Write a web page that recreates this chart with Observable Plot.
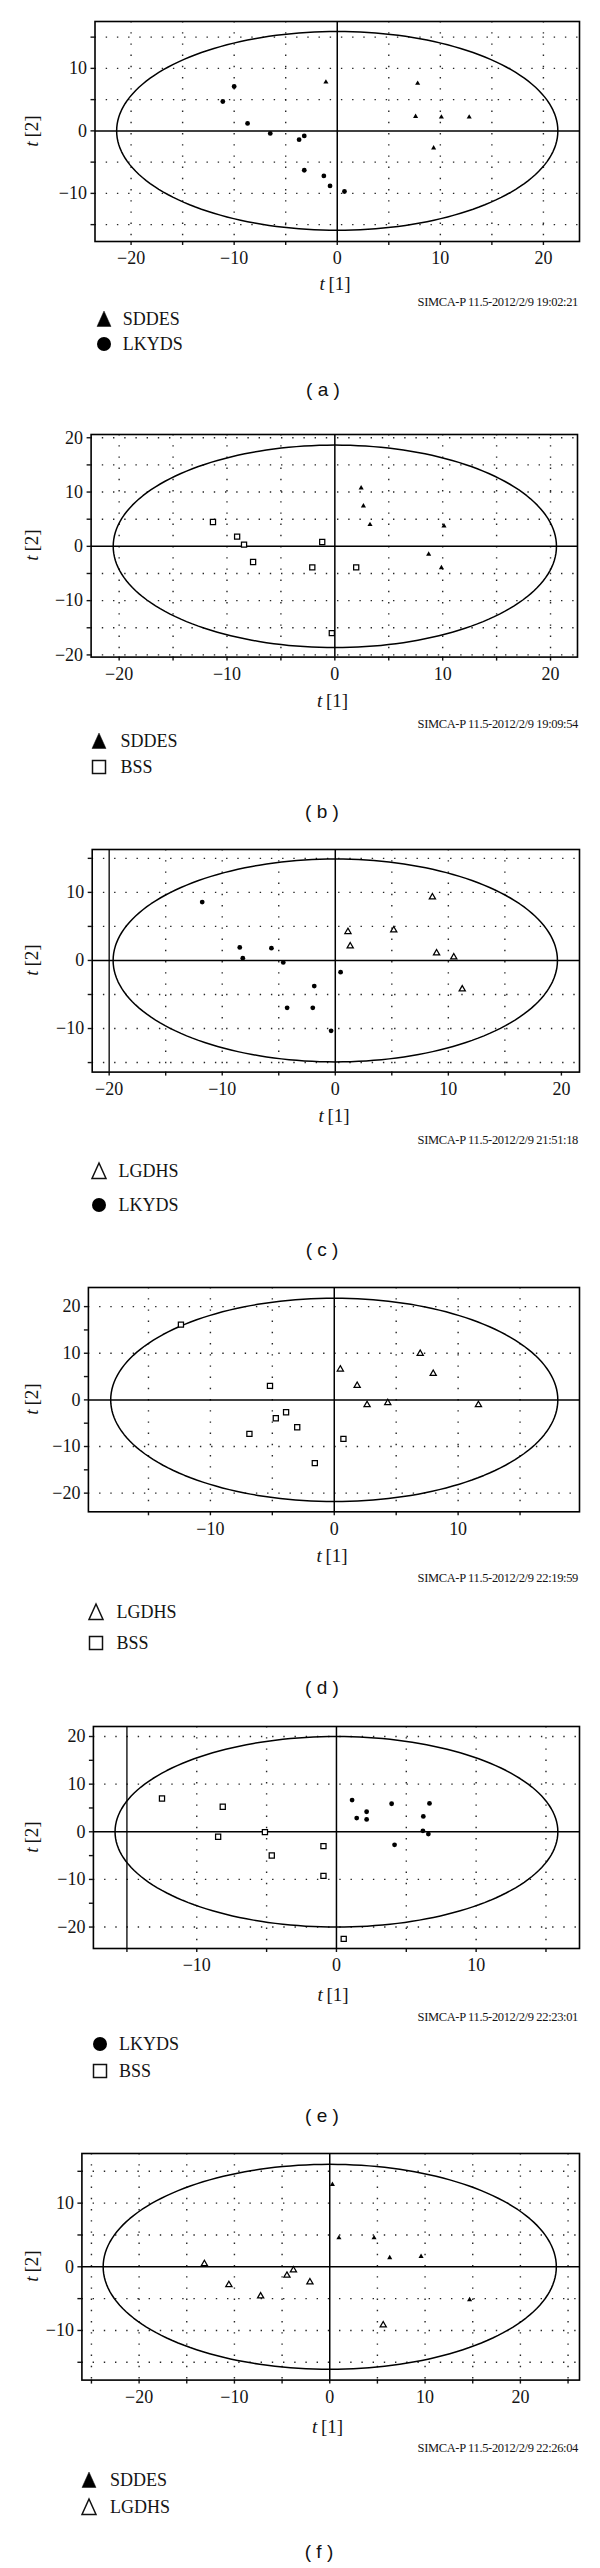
<!DOCTYPE html>
<html><head><meta charset="utf-8">
<script src="https://cdn.jsdelivr.net/npm/d3@7"></script>
<script src="https://cdn.jsdelivr.net/npm/@observablehq/plot@0.6"></script>
<style>
body{margin:0;background:#fff;}
#root{position:relative;width:600px;height:2568px;overflow:hidden;background:#fff;}
.abs{position:absolute;white-space:pre;line-height:1;}
.serif{font-family:"Liberation Serif","DejaVu Serif",serif;color:#141414;}
.sans{font-family:"Liberation Sans","DejaVu Sans",sans-serif;color:#111;}
</style></head><body><div id="root"></div>
<script>
// ---------- data (t[1], t[2]) ----------
const a_SDDES = [[-1.1,7.8],[7.8,7.6],[7.6,2.3],[10.1,2.2],[12.8,2.2],[9.35,-2.75]];
const a_LKYDS = [[-10.0,7.1],[-11.1,4.7],[-8.7,1.2],[-6.5,-0.4],[-3.7,-1.4],[-3.2,-0.8],[-3.2,-6.3],[-1.3,-7.2],[-0.7,-8.8],[0.7,-9.7]];
const b_SDDES = [[2.44,10.75],[2.65,7.43],[3.26,4.0],[10.12,3.75],[8.7,-1.47],[9.88,-3.93]];
const b_BSS = [[-11.3,4.49],[-9.06,1.78],[-8.42,0.31],[-7.58,-2.89],[-1.17,0.8],[-2.09,-3.87],[1.98,-3.87],[-0.28,-15.98]];
const c_LGDHS = [[8.59,9.31],[1.12,4.22],[5.17,4.46],[1.32,2.11],[8.96,1.08],[10.48,0.49],[11.23,-4.22]];
const c_LKYDS = [[-11.77,8.58],[-8.45,1.91],[-5.65,1.81],[-8.18,0.34],[-4.6,-0.29],[0.47,-1.72],[-1.86,-3.77],[-4.26,-6.96],[-1.99,-6.96],[-0.37,-10.34]];
const d_LGDHS = [[6.94,9.93],[0.49,6.57],[7.99,5.64],[1.85,3.07],[2.65,-1.07],[4.32,-0.64],[11.64,-1.07]];
const d_BSS = [[-12.38,16.14],[-5.19,3.0],[-3.89,-2.64],[-4.72,-3.93],[-2.99,-5.86],[-6.85,-7.29],[0.74,-8.36],[-1.57,-13.57]];
const e_LKYDS = [[1.12,6.65],[3.95,5.88],[6.66,5.95],[2.16,4.2],[1.45,2.87],[2.16,2.59],[6.22,3.22],[6.19,0.21],[6.58,-0.49],[4.16,-2.73]];
const e_BSS = [[-12.49,7.0],[-8.14,5.25],[-8.47,-1.05],[-5.12,-0.07],[-0.93,-3.01],[-4.63,-4.97],[-0.93,-9.25],[0.52,-22.49]];
const f_SDDES = [[0.28,12.93],[0.96,4.55],[4.65,4.55],[6.29,1.41],[9.58,1.62],[14.67,-5.18]];
const f_LGDHS = [[-13.15,0.47],[-10.58,-2.83],[-7.25,-4.61],[-4.49,-1.36],[-3.81,-0.52],[-2.08,-2.41],[5.61,-9.16]];

const panelLetters = ["a","b","c","d","e","f"];
const panelGroups = [["SDDES","LKYDS"],["SDDES","BSS"],["LGDHS","LKYDS"],["LGDHS","BSS"],["LKYDS","BSS"],["SDDES","LGDHS"]];
const panelData = [[a_SDDES,a_LKYDS],[b_SDDES,b_BSS],[c_LGDHS,c_LKYDS],[d_LGDHS,d_BSS],[e_LKYDS,e_BSS],[f_SDDES,f_LGDHS]];
const xDomains = [[-23.5,23.5],[-22.6,22.5],[-21.5,21.6],[-19.85,19.8],[-17.4,17.4],[-26,26.2]];
const yDomains = [[-17.7,17.5],[-20.4,20.6],[-16.4,16.3],[-24,24.1],[-24.5,22.1],[-17.8,17.8]];
const xTicks = [[-20,-15,-10,-5,0,5,10,15,20],[-20,-15,-10,-5,0,5,10,15,20],[-20,-15,-10,-5,0,5,10,15,20],[-15,-10,-5,0,5,10,15],[-15,-10,-5,0,5,10,15],[-25,-20,-15,-10,-5,0,5,10,15,20,25]];
const yTicks = [[-15,-10,-5,0,5,10,15],[-20,-15,-10,-5,0,5,10,15,20],[-15,-10,-5,0,5,10,15],[-20,-15,-10,-5,0,5,10,15,20],[-20,-15,-10,-5,0,5,10,15,20],[-15,-10,-5,0,5,10,15]];
const xGrid = [[-20,-15,-10,-5,5,10,15,20],[-20,-15,-10,-5,5,10,15,20],[-15,-10,-5,5,10,15],[-15,-10,-5,5,10,15],[-10,-5,5,10,15],[-25,-20,-15,-10,-5,5,10,15,20,25]];
const yGrid = [[-15,-10,-5,5,10,15],[-20,-15,-10,-5,5,10,15,20],[-15,-10,-5,5,10,15],[-20,-10,10,20],[-20,-10,10,20],[-15,-10,-5,5,10,15]];
const extraRules = [[],[],[-20],[],[-15],[]];
const ellipseA = [21.4,20.55,19.65,18.05,15.85,23.77];
const ellipseB = [15.9,18.65,14.9,21.8,20.0,16.1];
const stamps = ["SIMCA-P 11.5-2012/2/9 19:02:21","SIMCA-P 11.5-2012/2/9 19:09:54","SIMCA-P 11.5-2012/2/9 21:51:18","SIMCA-P 11.5-2012/2/9 22:19:59","SIMCA-P 11.5-2012/2/9 22:23:01","SIMCA-P 11.5-2012/2/9 22:26:04"];

// ---------- layout (pixels) ----------
const frames = [
  {l:94.5,r:579,t:20.7,b:240.7},
  {l:90.6,r:577,t:433.7,b:656.3},
  {l:91.7,r:579,t:848.7,b:1071.3},
  {l:87.9,r:579,t:1286.7,b:1511},
  {l:92.9,r:579,t:1725.7,b:1947.7},
  {l:81.4,r:579,t:2152.7,b:2379.3}
];
const textPos = [
  {t1x:335,t1y:283,sy:302,l1:319,l2:344,cy:391,gx:103.7,tx:122.7,cx:323},
  {t1x:332.5,t1y:700.7,sy:724,l1:741.3,l2:767.3,cy:813,gx:98.6,tx:120.4,cx:322},
  {t1x:334,t1y:1115.7,sy:1140,l1:1170.7,l2:1205,cy:1251.3,gx:98.6,tx:118.5,cx:322},
  {t1x:332,t1y:1555.7,sy:1578.3,l1:1612.3,l2:1643.3,cy:1689.3,gx:96.3,tx:116.5,cx:322},
  {t1x:333,t1y:1994.3,sy:2017.7,l1:2044.3,l2:2071,cy:2117,gx:100,tx:119,cx:322},
  {t1x:327.5,t1y:2426.3,sy:2448.7,l1:2480.3,l2:2507,cy:2553,gx:88.7,tx:110,cx:319}
];
const groupStyle = {
  SDDES:{symbol:"triangle",filled:true,r:1.9},
  LKYDS:{symbol:"circle",filled:true,r:2.4},
  BSS:{symbol:"square",filled:false,r:2.9},
  LGDHS:{symbol:"triangle",filled:false,r:2.3}
};

const root = document.getElementById("root");
const fmt = d => d < 0 ? "\u2212" + (-d) : String(d);

function addText(html, x, y, {anchor="start", cls="serif", size=18, rot=0, dy=0, extra=""} = {}) {
  const el = document.createElement("div");
  el.className = "abs " + cls;
  el.style.fontSize = size + "px";
  el.style.left = x + "px";
  el.style.top = (y - size/2 + dy) + "px";
  const tx = anchor === "middle" ? "-50%" : anchor === "end" ? "-100%" : "0";
  if (rot) {
    el.style.top = y + "px";
    el.style.transform = `translate(-50%,-50%) rotate(${rot}deg)`;
  } else {
    el.style.transform = `translateX(${tx})`;
  }
  el.style.cssText += extra;
  el.innerHTML = html;
  root.appendChild(el);
}

function addGlyph(group, cx, cy) {
  const st = groupStyle[group];
  const svg = d3.select(root).append("svg")
    .attr("width", 22).attr("height", 22)
    .style("position","absolute").style("left",(cx-11)+"px").style("top",(cy-11)+"px");
  const g = svg.append("g").attr("transform","translate(11,11)");
  if (st.symbol === "circle") {
    g.append("circle").attr("r",7).attr("fill","#000");
  } else if (st.symbol === "square") {
    g.append("rect").attr("x",-6.5).attr("y",-6.5).attr("width",13).attr("height",13)
      .attr("fill","none").attr("stroke","#111").attr("stroke-width",1.5);
  } else {
    g.append("path").attr("d","M0,-8L7,7.5L-7,7.5Z")
      .attr("fill", st.filled ? "#000" : "none").attr("stroke","#111")
      .attr("stroke-width", st.filled ? 0.5 : 1.5).attr("stroke-linejoin","miter");
  }
}

const mt = 12, mb = 36;
panelLetters.forEach((letter, i) => {
  const f = frames[i];
  const A = ellipseA[i], B = ellipseB[i];
  const ell = d3.range(0, 361, 2).map(deg => ({x: A*Math.cos(deg*Math.PI/180), y: B*Math.sin(deg*Math.PI/180)}));
  const dotMarks = panelGroups[i].map((g, k) => {
    const st = groupStyle[g];
    return Plot.dot(panelData[i][k], {
      x: d => d[0], y: d => d[1], symbol: st.symbol, r: st.r,
      fill: st.filled ? "#000" : "white", stroke: st.filled ? "none" : "#000",
      strokeWidth: st.filled ? 0 : 1.25
    });
  });
  const gridStyle = {stroke:"#000", strokeOpacity:0.85, strokeWidth:1.4, strokeDasharray:"1.4,9.8"};
  const plot = Plot.plot({
    width: 600,
    height: (f.b - f.t) + mt + mb,
    marginLeft: f.l, marginRight: 600 - f.r, marginTop: mt, marginBottom: mb,
    x: {domain: xDomains[i]},
    y: {domain: yDomains[i]},
    style: {fontFamily: '"Liberation Serif", serif', fontSize: "18px", color: "#141414", background: "transparent", overflow: "visible"},
    marks: [
      Plot.gridX(xGrid[i], gridStyle),
      Plot.gridY(yGrid[i], gridStyle),
      Plot.ruleX(extraRules[i], {stroke:"#000", strokeWidth:1.3}),
      Plot.ruleX([0], {stroke:"#000", strokeWidth:1.5}),
      Plot.ruleY([0], {stroke:"#000", strokeWidth:1.5}),
      Plot.line(ell, {x:"x", y:"y", stroke:"#000", strokeWidth:1.5}),
      Plot.axisX(xTicks[i], {tickSize:4, tickPadding:6, strokeWidth:1.4, fontSize:18, label:null, tickFormat: d => d % 10 === 0 ? fmt(d) : ""}),
      Plot.axisY(yTicks[i], {tickSize:4, tickPadding:4, strokeWidth:1.4, fontSize:18, label:null, tickFormat: d => d % 10 === 0 ? fmt(d) : ""}),
      ...dotMarks,
      Plot.frame({stroke:"#000", strokeWidth:1.6})
    ]
  });
  plot.style.position = "absolute";
  plot.style.left = "0px";
  plot.style.top = (f.t - mt) + "px";
  root.appendChild(plot);

  const p = textPos[i];
  addText("<i>t</i>\u2009[1]", p.t1x, p.t1y, {anchor:"middle", size:19});
  addText("<i>t</i>\u2009[2]", 30.6, (f.t + f.b)/2, {rot:-90, size:19});
  addText(stamps[i], 578, p.sy, {anchor:"end", size:12.5, extra:"letter-spacing:-0.35px;"});
  addGlyph(panelGroups[i][0], p.gx, p.l1);
  addGlyph(panelGroups[i][1], p.gx, p.l2);
  addText(panelGroups[i][0], p.tx, p.l1, {size:18});
  addText(panelGroups[i][1], p.tx, p.l2, {size:18});
  addText("( " + letter + " )", p.cx, p.cy, {anchor:"middle", cls:"sans", size:19, dy:-1.5});
});
</script>
</body></html>
